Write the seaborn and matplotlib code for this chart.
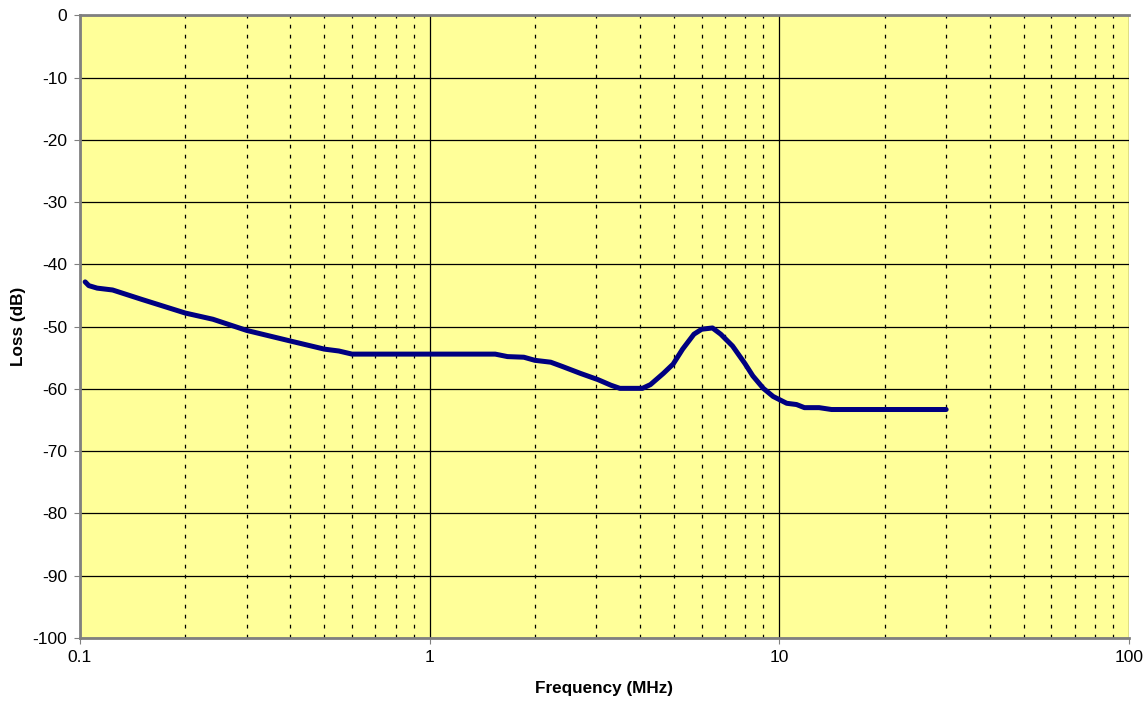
import matplotlib
matplotlib.use("Agg")
import matplotlib.pyplot as plt
import matplotlib.ticker as mticker
import seaborn as sns
import pandas as pd

# Insertion loss curve
freq_mhz = [0.1035, 0.106, 0.112, 0.124, 0.15, 0.2, 0.24, 0.3, 0.4, 0.5, 0.55,
            0.6, 0.8, 1.0, 1.3, 1.54, 1.67, 1.86, 2.0, 2.22, 2.4, 2.7, 3.03, 3.3,
            3.5, 4.06, 4.28, 4.66, 4.97, 5.29, 5.7, 6.0, 6.44, 6.8, 7.35, 7.97,
            8.4, 9.0, 9.6, 10.5, 11.2, 11.8, 13.0, 14.1, 20.0, 30.0]
loss_db = [-42.8, -43.4, -43.8, -44.1, -45.6, -47.8, -48.8, -50.6, -52.3, -53.6, -53.9,
           -54.4, -54.4, -54.4, -54.4, -54.4, -54.8, -54.9, -55.4, -55.7, -56.4, -57.5, -58.5, -59.4,
           -59.9, -59.9, -59.3, -57.5, -56.0, -53.6, -51.2, -50.4, -50.2, -51.2, -53.1, -55.9,
           -57.9, -59.9, -61.2, -62.3, -62.5, -63.0, -63.0, -63.3, -63.3, -63.3]

x_ticks = [0.1, 1, 10, 100]
x_tick_labels = ["0.1", "1", "10", "100"]
y_ticks = list(range(-100, 1, 10))

df = pd.DataFrame({"Frequency (MHz)": freq_mhz, "Loss (dB)": loss_db})

sns.set_style("white")
plt.rcParams["font.family"] = ["Liberation Sans", "DejaVu Sans"]
plt.rcParams["axes.unicode_minus"] = False
plt.rcParams["text.color"] = "black"
plt.rcParams["axes.labelcolor"] = "black"

fig = plt.figure(figsize=(11.47, 7.03), dpi=100)
ax = fig.add_axes([0.0697, 0.0925, 0.9146, 0.8855])
ax.set_facecolor("#FFFF99")

sns.lineplot(data=df, x="Frequency (MHz)", y="Loss (dB)", ax=ax,
             color="#000080", linewidth=3.6, zorder=5)

ax.set_xscale("log")
ax.set_xlim(0.1, 100)
ax.set_ylim(-100, 0)
ax.set_xticks(x_ticks)
ax.set_xticklabels(x_tick_labels)
ax.xaxis.set_minor_locator(mticker.LogLocator(base=10, subs=range(2, 10)))
ax.xaxis.set_minor_formatter(mticker.NullFormatter())
ax.set_yticks(y_ticks)

# gridlines: solid major, dashed minor verticals
ax.grid(which="major", axis="both", color="black", linewidth=0.9, linestyle="-")
ax.grid(which="minor", axis="x", color="black", linewidth=0.9, linestyle=(0, (3, 5)))
ax.set_axisbelow(True)

for side in ["left", "bottom", "top"]:
    ax.spines[side].set_color("#808080")
    ax.spines[side].set_linewidth(2)
ax.spines["right"].set_visible(False)

ax.tick_params(axis="both", which="major", direction="out", length=4,
               color="#808080", labelcolor="black", labelsize=12.5, pad=5,
               left=True, bottom=True)
ax.tick_params(axis="x", which="minor", length=0)

ax.set_xlabel("Frequency (MHz)", fontsize=12.3, fontweight="bold", labelpad=11, color="black")
ax.set_ylabel("Loss (dB)", fontsize=12.3, fontweight="bold", labelpad=5, color="black")

fig.savefig("out.png", dpi=100)
plt.close(fig)
